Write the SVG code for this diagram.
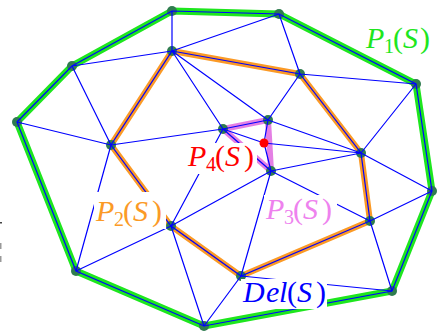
<svg xmlns="http://www.w3.org/2000/svg" width="440" height="333" viewBox="0 0 440 333">
<style>
.g{fill:none;stroke:#1ee61e;stroke-width:7;stroke-linejoin:round;stroke-linecap:round}
.o{fill:none;stroke:#fb9a26;stroke-width:6;stroke-linejoin:round;stroke-linecap:round}
.v{fill:none;stroke:#e47fe4;stroke-width:6;stroke-linejoin:round;stroke-linecap:round}
.e{stroke:#0000ff;stroke-width:1.2;fill:none}
.pt{fill:#2f7c4f}
.lb{font-family:"Liberation Serif",serif;font-size:30px}
.it{font-style:italic}
.sb{font-size:20px}
.bx{fill:#ffffff}
</style>
<g id="layers">
<polygon class="g" points="172,11 279,14 416,84 432,191 392,291 204,326 76,271 17,122 72,66"/>
<polygon class="o" points="172,51 300,74 361,153 370,221 241,276 171,226 111,145"/>
<polygon class="v" points="223,129 268,120 271,171"/>
</g>
<g id="nodes">
<circle id="A" class="pt" cx="172" cy="11" r="5"/>
<circle id="B" class="pt" cx="279" cy="14" r="5"/>
<circle id="C" class="pt" cx="416" cy="84" r="5"/>
<circle id="D" class="pt" cx="432" cy="191" r="5"/>
<circle id="E" class="pt" cx="392" cy="291" r="5"/>
<circle id="F" class="pt" cx="204" cy="326" r="5"/>
<circle id="G" class="pt" cx="76" cy="271" r="5"/>
<circle id="H" class="pt" cx="17" cy="122" r="5"/>
<circle id="I" class="pt" cx="72" cy="66" r="5"/>
<circle id="J" class="pt" cx="172" cy="51" r="5"/>
<circle id="K" class="pt" cx="300" cy="74" r="5"/>
<circle id="L" class="pt" cx="361" cy="153" r="5"/>
<circle id="M" class="pt" cx="370" cy="221" r="5"/>
<circle id="N" class="pt" cx="241" cy="276" r="5"/>
<circle id="O" class="pt" cx="171" cy="226" r="5"/>
<circle id="Q" class="pt" cx="111" cy="145" r="5"/>
<circle id="R" class="pt" cx="223" cy="129" r="5"/>
<circle id="S" class="pt" cx="268" cy="120" r="5"/>
<circle id="T" class="pt" cx="271" cy="171" r="5"/>
</g>
<g id="connectors" class="e">
<polygon points="172,11 279,14 416,84 432,191 392,291 204,326 76,271 17,122 72,66"/>
<polygon points="172,51 300,74 361,153 370,221 241,276 171,226 111,145"/>
<path d="M223,129L268,120M223,129L271,171M268,120L264,143L271,171"/>
<path d="M172,11L172,51M72,66L172,51M72,66L111,145M17,122L111,145M76,271L111,145M76,271L171,226M204,326L171,226M204,326L241,276M392,291L241,276M392,291L370,221M432,191L370,221M432,191L361,153M416,84L361,153M416,84L300,74M279,14L300,74M279,14L172,51M172,51L223,129M172,51L268,120M300,74L268,120M268,120L361,153M264,143L361,153M271,171L361,153M271,171L370,221M271,171L241,276M271,171L171,226M223,129L171,226M111,145L223,129M223,129L264,143"/>
</g>
<g id="X"><circle cx="264" cy="143" r="4.5" fill="#ff0000"/></g>
<g id="label-P1">
<text class="lb" fill="#1ee61e" y="48"><tspan class="it" x="366">P</tspan><tspan class="sb" x="384" y="53">1</tspan><tspan x="393" y="48">(</tspan><tspan class="it" x="403">S</tspan><tspan x="420">)</tspan></text>
</g>
<g id="label-P2">
<rect class="bx" x="94" y="192" width="72" height="37"/>
<text class="lb" fill="#fb9a26" y="221"><tspan class="it" x="96">P</tspan><tspan class="sb" x="114" y="226">2</tspan><tspan x="123" y="221">(</tspan><tspan class="it" x="133">S</tspan><tspan x="152">)</tspan></text>
</g>
<g id="label-P4">
<rect class="bx" x="187" y="143" width="70" height="31"/>
<text class="lb" fill="#ff0000" y="166"><tspan class="it" x="188">P</tspan><tspan class="sb" x="206" y="171">4</tspan><tspan x="215" y="166">(</tspan><tspan class="it" x="225">S</tspan><tspan x="244">)</tspan></text>
</g>
<g id="label-P3">
<rect class="bx" x="264" y="195" width="73" height="31"/>
<text class="lb" fill="#ee82ee" y="219"><tspan class="it" x="266">P</tspan><tspan class="sb" x="284" y="224">3</tspan><tspan x="293" y="219">(</tspan><tspan class="it" x="303">S</tspan><tspan x="322">)</tspan></text>
</g>
<g id="label-Del">
<rect class="bx" x="241" y="279" width="86" height="30"/>
<text class="lb" fill="#0000ff" y="302"><tspan class="it" x="243">D</tspan><tspan class="it" x="266">e</tspan><tspan class="it" x="279">l</tspan><tspan x="287">(</tspan><tspan class="it" x="297">S</tspan><tspan x="316">)</tspan></text>
</g>
<g id="edge-marks" fill="#999999">
<rect x="0" y="222" width="2" height="1.5" fill="#444444"/>
<rect x="0" y="243" width="1.5" height="6"/>
<rect x="0" y="256" width="1.5" height="6"/>
</g>
</svg>
